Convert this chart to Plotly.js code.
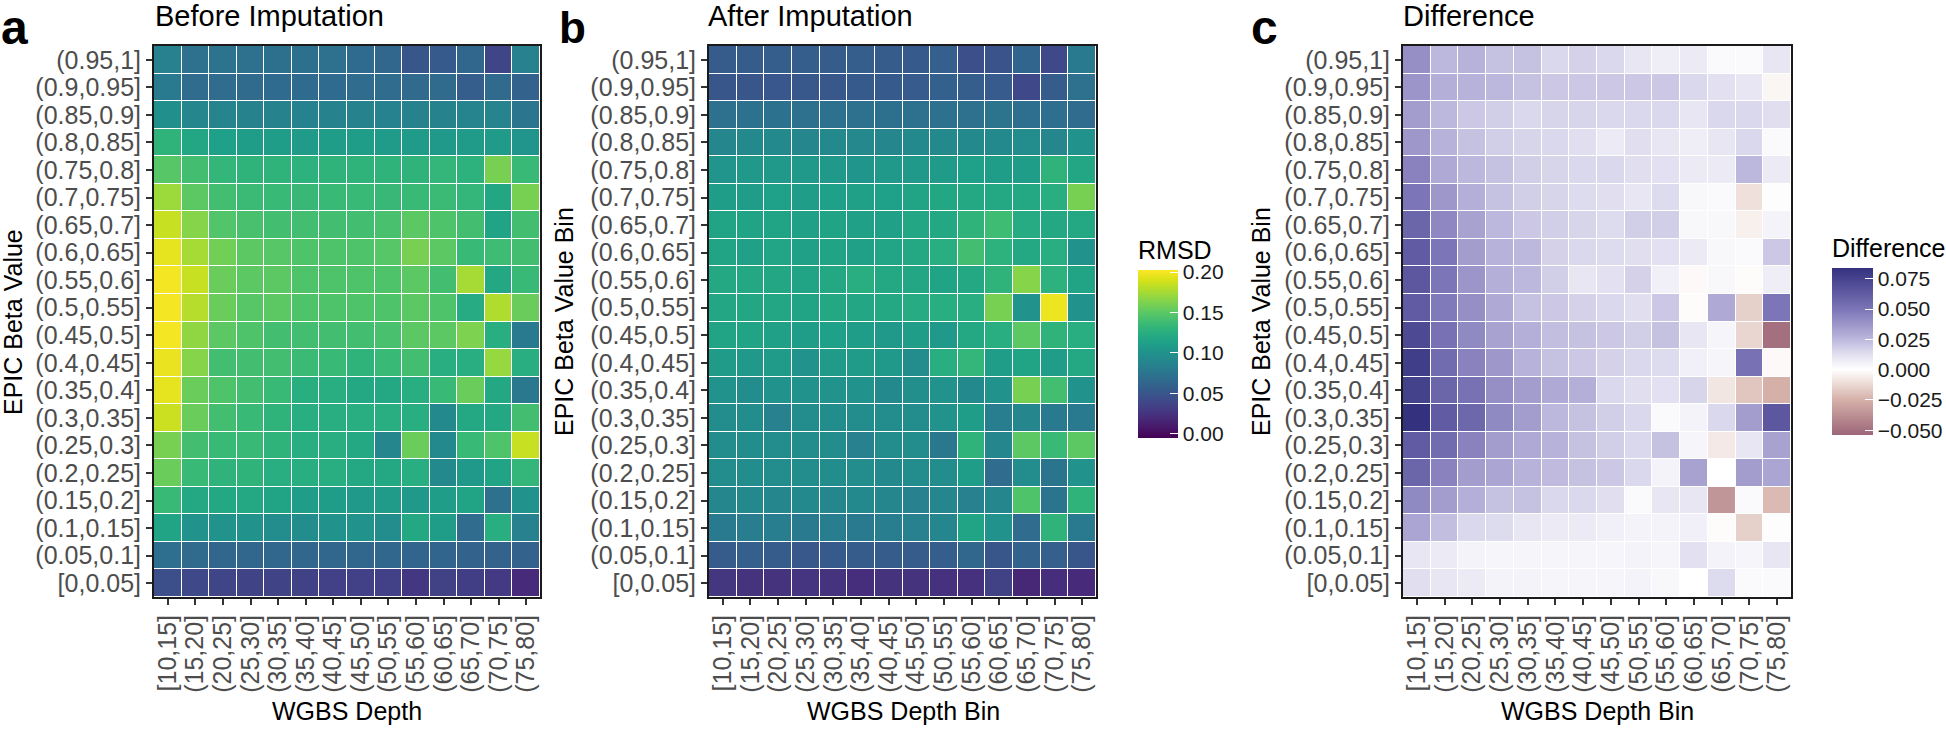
<!DOCTYPE html>
<html>
<head>
<meta charset="utf-8">
<script src="https://cdn.plot.ly/plotly-3.0.1.min.js"></script>
<style>html,body{margin:0;padding:0;background:#fff;}#chart{width:1946px;height:731px;}</style>
</head>
<body>
<div id="chart"></div>
<script>
// WGBS depth bins (x categories)
const depthBins = ["[10,15]","(15,20]","(20,25]","(25,30]","(30,35]","(35,40]","(40,45]","(45,50]","(50,55]","(55,60]","(60,65]","(65,70]","(70,75]","(75,80]"];
// EPIC beta value bins, listed top to bottom
const betaBins = ["(0.95,1]","(0.9,0.95]","(0.85,0.9]","(0.8,0.85]","(0.75,0.8]","(0.7,0.75]","(0.65,0.7]","(0.6,0.65]","(0.55,0.6]","(0.5,0.55]","(0.45,0.5]","(0.4,0.45]","(0.35,0.4]","(0.3,0.35]","(0.25,0.3]","(0.2,0.25]","(0.15,0.2]","(0.1,0.15]","(0.05,0.1]","[0,0.05]"];

// RMSD before imputation (rows top to bottom)
const rmsdBefore = [
 [0.085,0.072,0.074,0.072,0.071,0.071,0.072,0.067,0.063,0.050,0.053,0.064,0.038,0.085],
 [0.080,0.068,0.068,0.066,0.067,0.067,0.067,0.068,0.068,0.066,0.066,0.056,0.066,0.060],
 [0.098,0.090,0.088,0.087,0.087,0.086,0.087,0.087,0.086,0.087,0.087,0.088,0.088,0.076],
 [0.130,0.118,0.112,0.110,0.110,0.108,0.110,0.110,0.108,0.108,0.106,0.108,0.108,0.102],
 [0.148,0.140,0.132,0.130,0.130,0.128,0.130,0.130,0.130,0.130,0.132,0.128,0.160,0.135],
 [0.172,0.150,0.140,0.136,0.135,0.134,0.135,0.135,0.134,0.135,0.136,0.132,0.118,0.160],
 [0.185,0.165,0.146,0.142,0.140,0.140,0.140,0.140,0.142,0.150,0.145,0.140,0.115,0.140],
 [0.195,0.175,0.158,0.150,0.148,0.145,0.145,0.145,0.148,0.160,0.150,0.135,0.138,0.140],
 [0.200,0.185,0.155,0.150,0.150,0.145,0.145,0.145,0.145,0.150,0.140,0.175,0.120,0.135],
 [0.200,0.180,0.155,0.148,0.150,0.145,0.145,0.145,0.145,0.150,0.145,0.122,0.178,0.155],
 [0.200,0.168,0.150,0.145,0.140,0.140,0.140,0.140,0.142,0.150,0.150,0.162,0.125,0.080],
 [0.196,0.165,0.140,0.140,0.140,0.136,0.135,0.130,0.135,0.140,0.125,0.125,0.170,0.125],
 [0.195,0.155,0.145,0.140,0.135,0.126,0.125,0.120,0.120,0.125,0.135,0.155,0.120,0.078],
 [0.186,0.155,0.140,0.135,0.130,0.125,0.125,0.125,0.125,0.125,0.092,0.120,0.120,0.140],
 [0.160,0.140,0.135,0.135,0.130,0.125,0.125,0.120,0.090,0.155,0.092,0.135,0.145,0.185],
 [0.155,0.135,0.130,0.130,0.125,0.125,0.125,0.120,0.120,0.125,0.092,0.105,0.115,0.132],
 [0.135,0.120,0.120,0.120,0.115,0.110,0.110,0.105,0.108,0.105,0.110,0.115,0.072,0.100],
 [0.115,0.100,0.100,0.100,0.095,0.095,0.100,0.100,0.095,0.120,0.110,0.068,0.125,0.085],
 [0.070,0.066,0.064,0.064,0.063,0.063,0.063,0.063,0.063,0.062,0.062,0.060,0.060,0.060],
 [0.045,0.040,0.038,0.037,0.037,0.035,0.034,0.034,0.034,0.028,0.035,0.033,0.030,0.020]
];

// RMSD after imputation (rows top to bottom)
const rmsdAfter = [
 [0.055,0.055,0.056,0.056,0.055,0.056,0.055,0.053,0.057,0.045,0.048,0.062,0.040,0.080],
 [0.050,0.050,0.051,0.052,0.052,0.053,0.053,0.054,0.058,0.056,0.054,0.040,0.055,0.072],
 [0.072,0.073,0.073,0.072,0.072,0.072,0.071,0.072,0.072,0.072,0.074,0.070,0.070,0.068],
 [0.090,0.092,0.092,0.090,0.092,0.091,0.090,0.092,0.092,0.092,0.092,0.095,0.090,0.100],
 [0.102,0.105,0.105,0.105,0.105,0.103,0.105,0.105,0.108,0.112,0.110,0.110,0.130,0.118],
 [0.110,0.110,0.112,0.110,0.112,0.113,0.112,0.115,0.118,0.120,0.120,0.120,0.125,0.160],
 [0.115,0.115,0.115,0.113,0.115,0.113,0.113,0.118,0.120,0.130,0.138,0.122,0.120,0.120],
 [0.115,0.113,0.116,0.113,0.115,0.113,0.116,0.120,0.125,0.140,0.128,0.120,0.125,0.100],
 [0.120,0.120,0.118,0.115,0.120,0.125,0.120,0.118,0.115,0.120,0.130,0.165,0.128,0.115],
 [0.118,0.118,0.118,0.115,0.120,0.118,0.120,0.122,0.125,0.125,0.160,0.100,0.197,0.100],
 [0.115,0.115,0.113,0.110,0.112,0.110,0.105,0.110,0.105,0.120,0.125,0.150,0.130,0.125],
 [0.108,0.105,0.108,0.100,0.108,0.108,0.105,0.095,0.125,0.132,0.110,0.115,0.110,0.120],
 [0.100,0.095,0.100,0.100,0.100,0.100,0.092,0.097,0.100,0.092,0.100,0.160,0.140,0.100],
 [0.095,0.095,0.085,0.095,0.095,0.095,0.095,0.095,0.100,0.110,0.082,0.090,0.080,0.080],
 [0.095,0.095,0.095,0.095,0.095,0.085,0.095,0.095,0.078,0.130,0.090,0.150,0.135,0.150],
 [0.095,0.095,0.095,0.095,0.095,0.095,0.092,0.095,0.095,0.110,0.068,0.095,0.075,0.100],
 [0.090,0.092,0.090,0.092,0.090,0.092,0.090,0.085,0.090,0.085,0.090,0.145,0.075,0.130],
 [0.080,0.082,0.082,0.080,0.082,0.080,0.082,0.085,0.090,0.115,0.100,0.068,0.130,0.080],
 [0.055,0.057,0.055,0.052,0.053,0.055,0.055,0.055,0.056,0.063,0.050,0.060,0.057,0.050],
 [0.027,0.025,0.025,0.026,0.025,0.022,0.025,0.025,0.024,0.024,0.035,0.018,0.022,0.020]
];

// Difference (rows top to bottom)
const rmsdDiff = [
 [0.040,0.025,0.027,0.022,0.022,0.015,0.017,0.015,0.010,0.007,0.008,0.002,0.002,0.010],
 [0.038,0.028,0.027,0.025,0.022,0.020,0.020,0.020,0.020,0.020,0.015,0.012,0.010,-0.003],
 [0.035,0.025,0.020,0.018,0.015,0.016,0.016,0.015,0.015,0.015,0.010,0.015,0.015,0.013],
 [0.037,0.027,0.022,0.018,0.016,0.015,0.013,0.008,0.013,0.010,0.007,0.010,0.015,0.002],
 [0.045,0.030,0.025,0.022,0.018,0.016,0.015,0.015,0.013,0.012,0.008,0.008,0.025,0.008],
 [0.050,0.037,0.028,0.022,0.018,0.016,0.014,0.013,0.010,0.014,0.003,0.002,-0.010,0.001],
 [0.058,0.043,0.033,0.025,0.020,0.018,0.016,0.014,0.018,0.018,0.003,0.003,-0.005,0.005],
 [0.063,0.050,0.035,0.027,0.025,0.017,0.015,0.014,0.013,0.012,0.008,0.003,0.002,0.020],
 [0.065,0.050,0.038,0.028,0.025,0.018,0.010,0.012,0.017,0.006,-0.002,0.003,-0.001,0.007],
 [0.063,0.048,0.040,0.030,0.022,0.020,0.017,0.015,0.013,0.020,-0.001,0.030,-0.015,0.050],
 [0.072,0.052,0.042,0.033,0.028,0.023,0.022,0.020,0.018,0.022,0.010,0.004,-0.013,-0.050],
 [0.078,0.055,0.045,0.037,0.027,0.022,0.020,0.017,0.015,0.014,0.006,0.004,0.052,-0.002],
 [0.076,0.058,0.052,0.040,0.035,0.030,0.028,0.015,0.013,0.012,0.016,-0.008,-0.018,-0.025],
 [0.085,0.063,0.057,0.042,0.035,0.025,0.022,0.018,0.015,0.002,0.005,0.015,0.035,0.065],
 [0.063,0.055,0.045,0.035,0.030,0.027,0.022,0.018,0.015,0.022,0.004,-0.007,0.010,0.033],
 [0.058,0.045,0.035,0.032,0.027,0.024,0.022,0.020,0.015,0.005,0.033,0.000,0.035,0.032],
 [0.042,0.035,0.028,0.022,0.022,0.015,0.015,0.013,0.002,0.010,0.010,-0.035,0.002,-0.022],
 [0.032,0.023,0.015,0.014,0.010,0.008,0.008,0.006,0.005,0.005,0.006,-0.001,-0.015,0.001],
 [0.010,0.008,0.005,0.004,0.004,0.004,0.004,0.004,0.005,0.004,0.012,0.005,0.004,0.010],
 [0.013,0.010,0.008,0.005,0.005,0.004,0.004,0.004,0.005,0.003,0.000,0.014,0.002,0.002]
];

const rmsdTicks = [0, 0.05, 0.10, 0.15, 0.20];
const diffTicks = [-0.05, -0.025, 0, 0.025, 0.05, 0.075];

const W = 1946, H = 731;
const FONT = "Liberation Sans, Arial, Helvetica, sans-serif";
const px = v => v / W;
const py = v => 1 - v / H;

const traces = [
  {type:'heatmap', x:depthBins, y:betaBins, z:rmsdBefore, xaxis:'x', yaxis:'y', coloraxis:'coloraxis', xgap:1, ygap:1},
  {type:'heatmap', x:depthBins, y:betaBins, z:rmsdAfter, xaxis:'x2', yaxis:'y2', coloraxis:'coloraxis', xgap:1, ygap:1},
  {type:'heatmap', x:depthBins, y:betaBins, z:rmsdDiff, xaxis:'x3', yaxis:'y3', coloraxis:'coloraxis2', xgap:1, ygap:1}
];

const TICKFONT = {family:FONT, size:25, color:'#4d4d4d'};
function xa(l, r, anchor){
  return {domain:[px(l), px(r)], anchor:anchor, type:'category', tickangle:-90,
    tickmode:'array', tickvals:depthBins, ticktext:depthBins,
    ticks:'outside', ticklen:6, tickwidth:2, tickcolor:'#333',
    showline:true, mirror:true, linecolor:'#1a1a1a', linewidth:2,
    showgrid:false, zeroline:false, automargin:false, tickfont:TICKFONT};
}
function ya(anchor){
  return {domain:[py(597), py(46)], anchor:anchor, type:'category', autorange:'reversed',
    tickmode:'array', tickvals:betaBins, ticktext:betaBins,
    ticks:'outside', ticklen:6, tickwidth:2, tickcolor:'#333',
    showline:true, mirror:true, linecolor:'#1a1a1a', linewidth:2,
    showgrid:false, zeroline:false, automargin:false, tickfont:TICKFONT};
}

const ann = [];
function text(t, x, y, size, opts){
  ann.push(Object.assign({text:t, xref:'paper', yref:'paper', x:px(x), y:py(y), showarrow:false,
    xanchor:'left', yanchor:'middle', font:{family:FONT, size:size, color:'#000'}}, opts||{}));
}
// panel letters
text('<b>a</b>', 0, 0, 48, {yanchor:'top', borderpad:0});
text('<b>b</b>', 558, 2, 44, {yanchor:'top', borderpad:0});
text('<b>c</b>', 1250, 0, 48, {yanchor:'top', borderpad:0});
// panel titles
text('Before Imputation', 153, 16, 29);
text('After Imputation', 706, 16, 29);
text('Difference', 1401, 16, 29);
// x axis titles
text('WGBS Depth', 347, 711, 25, {xanchor:'center'});
text('WGBS Depth Bin', 903, 711, 25, {xanchor:'center'});
text('WGBS Depth Bin', 1597, 711, 25, {xanchor:'center'});
// y axis titles
text('EPIC Beta Value', 13, 322, 25, {xanchor:'center', textangle:-90});
text('EPIC Beta Value Bin', 564, 322, 25, {xanchor:'center', textangle:-90});
text('EPIC Beta Value Bin', 1261, 322, 25, {xanchor:'center', textangle:-90});

const diffMin = -0.054, diffMax = 0.084;
const dpos = v => (v - diffMin) / (diffMax - diffMin);

const layout = {
  width:W, height:H, margin:{l:0, r:0, t:0, b:0, autoexpand:false},
  paper_bgcolor:'#fff', plot_bgcolor:'#fff', showlegend:false,
  font:{family:FONT},
  xaxis: xa(154, 540, 'y'),
  yaxis: ya('x'),
  xaxis2: xa(709, 1096, 'y2'),
  yaxis2: ya('x2'),
  xaxis3: xa(1403, 1791, 'y3'),
  yaxis3: ya('x3'),
  coloraxis:{colorscale:'Viridis', cmin:-0.005, cmax:0.2025,
    colorbar:{x:px(1138), xanchor:'left', xpad:0, y:py(337.5), yanchor:'middle', ypad:0,
      len:201, lenmode:'pixels', thickness:40, thicknessmode:'pixels', outlinewidth:0,
      tickvals:rmsdTicks, ticktext:rmsdTicks.map(v=>v.toFixed(2)),
      ticks:'inside', ticklen:8, tickwidth:1, tickcolor:'#fff',
      tickfont:{family:FONT, size:21, color:'#1a1a1a'},
      title:{text:'RMSD', side:'top', font:{family:FONT, size:25, color:'#000'}}}},
  coloraxis2:{cmin:diffMin, cmax:diffMax,
    colorscale:[[0,'#9c6679'],[dpos(-0.025),'#d5b0a9'],[dpos(-0.01),'#efe0db'],[dpos(0),'#ffffff'],[dpos(0.0125),'#e2e0f0'],[dpos(0.025),'#bcb7dc'],[dpos(0.05),'#7c75b7'],[1,'#34327f']],
    colorbar:{x:px(1832), xanchor:'left', xpad:0, y:py(335), yanchor:'middle', ypad:0,
      len:200, lenmode:'pixels', thickness:41, thicknessmode:'pixels', outlinewidth:0,
      tickvals:diffTicks, ticktext:diffTicks.map(v=>(v<0?'\u2212':'')+Math.abs(v).toFixed(3)),
      ticks:'inside', ticklen:8, tickwidth:1, tickcolor:'#fff',
      tickfont:{family:FONT, size:21, color:'#1a1a1a'},
      title:{text:'Difference', side:'top', font:{family:FONT, size:25, color:'#000'}}}},
  annotations: ann
};

Plotly.newPlot('chart', traces, layout, {displayModeBar:false, staticPlot:true});
</script>
</body>
</html>
